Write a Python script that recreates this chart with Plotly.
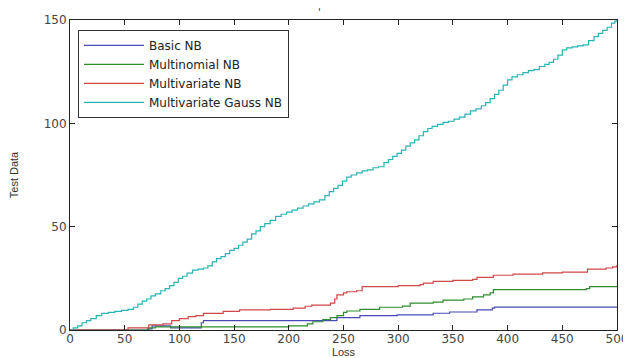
import plotly.graph_objects as go

# ---- data ----
cyan_x = [0,3,7,11,15,19,24,29,35,41,47,53,58,62,66,70,74,78,83,87,91,95,99,103,107,112,117,122,126,130,
          134,138,142,146,150,154,158,162,166,170,174,178,183,188,193,198,203,208,213,218,223,228,233,237,241,
          245,249,253,257,262,267,272,277,282,287,291,295,299,303,307,311,315,319,323,327,331,336,341,346,351,
          356,361,366,371,376,380,384,388,392,396,400,404,409,414,419,424,429,434,438,442,446,450,454,459,464,
          469,474,479,483,487,491,495,498,500]
cyan_y = [0,1,2,3.5,4.5,5.5,7,8,8.5,9,9.5,10,11,12.5,14,15,16.5,17.5,19,20,21.5,23,25,26,27.5,29,29.5,30,31,33,
          34.5,35.5,37,38.5,39.5,41,42.5,44,46.5,48,50,51.5,53,55,56,57,58,59,60,61,62,63,65,67,68.5,
          70,72,74,75,76,77,77.5,78.5,79,81,82.5,84,85.5,87,89,90.5,92,94,96,97.5,98.5,99.5,100.5,101,102,
          103,104.5,106,107,108.5,110,112,114,116,118.5,121,122.5,123.5,124.5,125.5,126,127.5,128.5,129.5,131,133,135.5,136.5,137,137.5,
          138,140,142,143.5,145,146.5,148.5,149.5,150]

red_x = [0,53,72,85,93,100,108,115,122,140,155,183,204,215,221,238,242,244,250,253,262,267,300,320,323,332,
         350,368,372,387,405,432,450,473,490,496,500]
red_y = [0,1,2.5,3,4.5,5.5,6.5,7,8,9,9.7,10,10.6,11.5,12,13,15,17,18,18.5,19,21,21.5,22,22.7,23.5,
         24,24.5,25.5,26.5,27,27.6,28,29.5,30,30.5,31.5]

green_x = [0,71,78,200,217,222,231,238,244,250,253,265,283,304,311,332,341,360,368,378,384,387,472,475,500]
green_y = [0,1,1.5,2,3,4,5,6,7,8.5,9.2,10,11,11.6,13,13.5,14.5,15,16,17,18,19.5,20,21,21]

blue_x = [0,72,75,92,120,122,240,244,265,299,332,347,372,386,388,500]
blue_y = [0,0.5,2,1,3.5,4.5,4.5,6,7,7.3,8.1,8.7,9.7,10.6,11.1,11.1]

names = ["Basic NB", "Multinomial NB", "Multivariate NB", "Multivariate Gauss NB"]
colors = ["#4848b8", "#2e8c2e", "#d04848", "#28b4b4"]

x_ticks = [0, 50, 100, 150, 200, 250, 300, 350, 400, 450, 500]
y_ticks = [0, 50, 100, 150]

fig = go.Figure()
for xs, ys, nm, c in zip([blue_x, green_x, red_x, cyan_x], [blue_y, green_y, red_y, cyan_y], names, colors):
    fig.add_trace(go.Scatter(x=xs, y=ys, mode="lines", name=nm, line=dict(color=c, width=1.2, shape="hv")))

axis_common = dict(showgrid=False, zeroline=False, showline=True, linecolor="#222", linewidth=1,
                   mirror="ticks", ticks="inside", ticklen=5, tickcolor="#222", automargin=False,
                   tickfont=dict(family="DejaVu Sans", size=12, color="#444"))

# the page adds an 8 px body margin, so the figure is 8 px smaller than the window
fig.update_layout(
    width=623, height=350,
    margin=dict(l=62, r=14, t=12, b=28, autoexpand=False),
    paper_bgcolor="white", plot_bgcolor="white",
    font=dict(family="DejaVu Sans", size=12, color="#333"),
    xaxis=dict(range=[0, 500], tickvals=x_ticks, ticklabelstandoff=-2,
               title=dict(text="Loss", standoff=5, font=dict(family="Liberation Sans", size=11)), **axis_common),
    yaxis=dict(range=[0, 150], tickvals=y_ticks,
               title=dict(text="Test Data", standoff=28, font=dict(family="Liberation Sans", size=11)), **axis_common),
    legend=dict(x=0.0146, y=0.968, xanchor="left", yanchor="top", bgcolor="white",
                bordercolor="#333", borderwidth=1,
                font=dict(family="DejaVu Sans", size=12, color="#222"),
                tracegroupgap=0, itemwidth=60),
    showlegend=True,
    annotations=[dict(text="'", x=0.457, y=1.0, xref="paper", yref="paper", xanchor="center", yanchor="bottom",
                      yshift=0, showarrow=False, font=dict(size=10, color="#333"))],
)

fig.write_html("out.html")
